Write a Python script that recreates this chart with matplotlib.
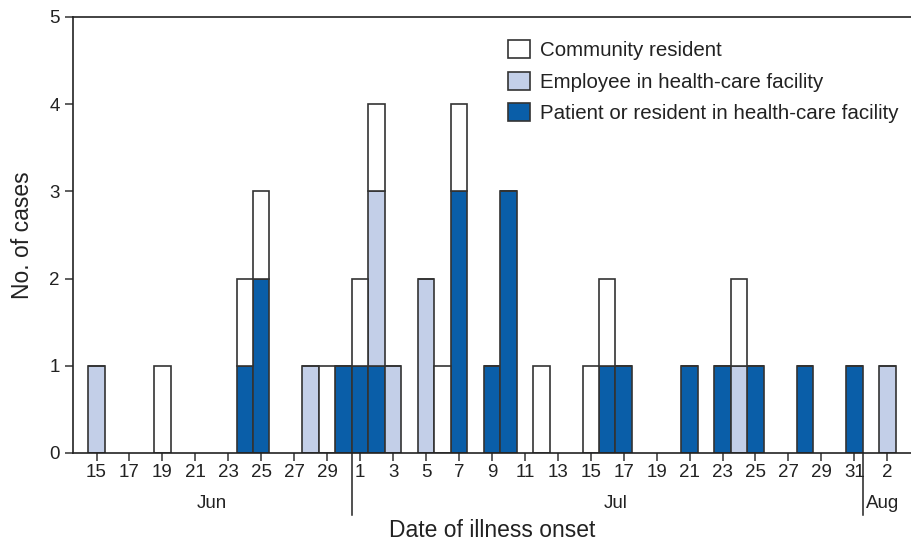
import matplotlib
matplotlib.use("Agg")
import matplotlib.pyplot as plt
import matplotlib.transforms as mtransforms
from matplotlib.patches import Patch
import pandas as pd

# onset dates and case counts by group
dates = ["Jun 15", "Jun 19", "Jun 24", "Jun 25", "Jun 28", "Jun 29", "Jun 30",
         "Jul 1", "Jul 2", "Jul 3", "Jul 5", "Jul 6", "Jul 7", "Jul 9", "Jul 10",
         "Jul 12", "Jul 15", "Jul 16", "Jul 17", "Jul 21", "Jul 23", "Jul 24",
         "Jul 25", "Jul 28", "Jul 31", "Aug 2"]
patient = [0, 0, 1, 2, 0, 0, 1, 1, 1, 0, 0, 0, 3, 1, 3, 0, 0, 1, 1, 1, 1, 0, 1, 1, 1, 0]
employee = [1, 0, 0, 0, 1, 0, 0, 0, 2, 1, 2, 0, 0, 0, 0, 0, 0, 0, 0, 0, 0, 1, 0, 0, 0, 1]
community = [0, 1, 1, 1, 0, 1, 0, 1, 1, 0, 0, 1, 1, 0, 0, 1, 1, 1, 0, 0, 0, 1, 0, 0, 0, 0]

tick_dates = ["Jun %d" % d for d in range(15, 30, 2)] + \
             ["Jul %d" % d for d in range(1, 32, 2)] + ["Aug 2"]
months = ["Jun", "Jul", "Aug"]

labels = ["Community resident", "Employee in health-care facility",
          "Patient or resident in health-care facility"]
c_comm, c_emp, c_pat = "white", "#c3cfe8", "#0a5ea8"
edge = "#333333"
txt = "#222222"

plt.rcParams["font.family"] = ["Liberation Sans", "DejaVu Sans"]

start = pd.Timestamp("2003-06-15")
def day(s):
    return (pd.to_datetime(s + " 2003", format="%b %d %Y") - start).days

x = [day(d) for d in dates]
bottom_emp = patient
bottom_comm = [p + e for p, e in zip(patient, employee)]

fig = plt.figure(figsize=(9.12, 5.41), dpi=100)
ax = fig.add_axes([0.080, 0.1627, 0.92, 0.806])

kw = dict(width=1.0, edgecolor=edge, linewidth=1.2)
ax.bar(x, patient, color=c_pat, **kw)
ax.bar(x, employee, bottom=bottom_emp, color=c_emp, **kw)
ax.bar(x, community, bottom=bottom_comm, color=c_comm, **kw)

ax.set_xlim(-1.43, 49.5)
ax.set_ylim(0, 5)
ax.set_yticks(range(6))
ax.set_xticks([day(d) for d in tick_dates])
ax.set_xticklabels([d.split()[1] for d in tick_dates])
ax.tick_params(axis="both", labelsize=13.5, length=6, width=1.1, color=edge,
               labelcolor=txt, direction="out")
ax.tick_params(axis="x", pad=2)

for s in ["left", "bottom", "top"]:
    ax.spines[s].set_linewidth(1.2)
    ax.spines[s].set_color(txt)
ax.spines["right"].set_visible(False)

# month separators and labels
trans = mtransforms.blended_transform_factory(ax.transData, ax.transAxes)
for sep in [day("Jun 30") + 0.5, day("Jul 31") + 0.5]:
    ax.plot([sep, sep], [0, -0.142], color=txt, lw=1.1,
            transform=trans, clip_on=False)
ax.text(day("Jun 22"), -0.117, months[0], transform=trans, ha="center",
        va="center", fontsize=13.5, color=txt)
ax.text(day("Jul 16") + 0.5, -0.117, months[1], transform=trans, ha="center",
        va="center", fontsize=13.5, color=txt)
ax.text(day("Jul 31") + 0.7, -0.117, months[2], transform=trans, ha="left",
        va="center", fontsize=13.5, color=txt)

ax.set_xlabel("Date of illness onset", fontsize=16.5, color=txt, labelpad=27)
ax.set_ylabel("No. of cases", fontsize=16.5, color=txt, labelpad=11)

handles = [Patch(facecolor=c, edgecolor=edge, linewidth=1.2)
           for c in (c_comm, c_emp, c_pat)]
fig.legend(handles, labels, loc="upper left",
           bbox_to_anchor=(508 / 912, 1 - 40 / 541), frameon=False,
           fontsize=14.8, handlelength=1.05, handleheight=1.0,
           handletextpad=0.5, labelspacing=0.55, borderpad=0,
           borderaxespad=0, labelcolor=txt)

fig.savefig("out.png", dpi=100)
